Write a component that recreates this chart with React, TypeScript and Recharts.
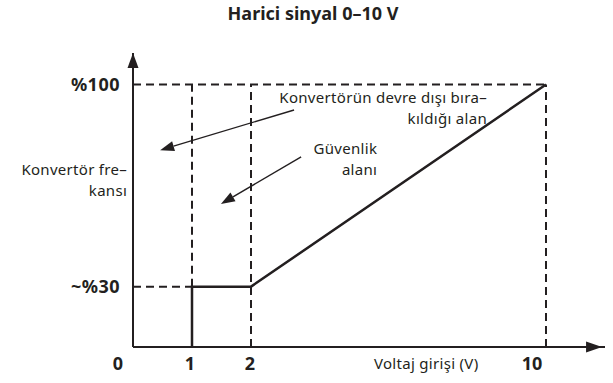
import {
  LineChart,
  Line,
  XAxis,
  YAxis,
  ReferenceLine,
  ReferenceDot,
} from "recharts";

const ink = "#231f20";
const font = "'Noto Sans', sans-serif";

// voltage ticks and the frequency levels
const voltTicks = [0, 1, 2, 10];
const voltTickLabels = ["0", "1", "2", "10"];
const freqTicks = [30, 100];
const freqTickLabels = ["~%30", "%100"];

// the curve: converter frequency vs. input voltage
const lineVolts = [1, 1, 2, 10];
const lineFreq = [0, 30, 30, 100];

// the sketch squeezes the axes, so map through breaks
const voltBreaks = [0, 2, 10];
const voltAxisPos = [0, 2, 7];
const freqBreaks = [0, 30, 100];
const freqAxisPos = [0, 23, 100];

function piecewise(v: number, from: number[], to: number[]) {
  for (let i = 1; i < from.length; i++) {
    if (v <= from[i] || i === from.length - 1) {
      const t = (v - from[i - 1]) / (from[i] - from[i - 1]);
      return to[i - 1] + t * (to[i] - to[i - 1]);
    }
  }
  return v;
}
const mapV = (v: number) => piecewise(v, voltBreaks, voltAxisPos);
const mapF = (f: number) => piecewise(f, freqBreaks, freqAxisPos);

const lineData = lineVolts.map((v, i) => ({ x: mapV(v), y: mapF(lineFreq[i]) }));
const xTickPos = voltTicks.map(mapV);
const yTickPos = freqTicks.map(mapF);
const xTickShift = [-15, -2, -1, -14];

const XTick = (props: any) => {
  const { x, y, payload } = props;
  const i = xTickPos.indexOf(payload.value);
  return (
    <text x={x + (xTickShift[i] || 0)} y={y} dy="0.71em" textAnchor="middle"
      fontFamily={font} fontWeight={700} fontSize={18} fill={ink}>
      {voltTickLabels[i]}
    </text>
  );
};

const YTick = (props: any) => {
  const { x, y, payload } = props;
  const i = yTickPos.indexOf(payload.value);
  return (
    <text x={x} y={y} dy="0.35em" textAnchor="end"
      fontFamily={font} fontWeight={700} fontSize={18} letterSpacing={0.5} fill={ink}>
      {freqTickLabels[i]}
    </text>
  );
};

const textBlock = (lines: string[], anchor: string, lh: number) => (props: any) => {
  const { cx, cy } = props;
  return (
    <text x={cx} y={cy} textAnchor={anchor} fontFamily={font} fontSize={15}
      letterSpacing={0.3} fill={ink}>
      {lines.map((l, i) => (
        <tspan key={i} x={cx} dy={i === 0 ? 0 : lh}>{l}</tspan>
      ))}
    </text>
  );
};

const arrowShape = (len: number, half: number, sw: number) => (props: any) => {
  const { x1, y1, x2, y2 } = props;
  const dx = x2 - x1;
  const dy = y2 - y1;
  const d = Math.sqrt(dx * dx + dy * dy) || 1;
  const ux = dx / d;
  const uy = dy / d;
  const bx = x2 - ux * len;
  const by = y2 - uy * len;
  return (
    <g>
      <line x1={x1} y1={y1} x2={bx} y2={by} stroke={ink} strokeWidth={sw} />
      <polygon
        points={`${x2},${y2} ${bx - uy * half},${by + ux * half} ${bx + uy * half},${by - ux * half}`}
        fill={ink}
      />
    </g>
  );
};

const dash = { stroke: ink, strokeWidth: 2, strokeDasharray: "8 5", ifOverflow: "visible" as const };

export default function App() {
  return (
    <div style={{ position: "absolute", left: 0, top: 0, width: 613, height: 383, background: "#fff" }}>
      <div style={{ position: "absolute", left: 0, width: 626, top: 1, textAlign: "center",
        fontFamily: font, fontWeight: 700, fontSize: 18, color: ink }}>
        Harici sinyal 0–10 V
      </div>
      <LineChart width={613} height={383} data={lineData}
        margin={{ top: 53, right: 8, left: 0, bottom: 0 }}>
        <XAxis type="number" dataKey="x" domain={[0, 8]} ticks={xTickPos} interval={0}
          tickLine={false} tickSize={0} tickMargin={10} height={36}
          axisLine={{ stroke: ink, strokeWidth: 2 }} tick={<XTick />} allowDataOverflow />
        <YAxis type="number" domain={[0, 112]} ticks={yTickPos} interval={0}
          tickLine={false} tickSize={0} tickMargin={13} width={133}
          axisLine={{ stroke: ink, strokeWidth: 2 }} tick={<YTick />} allowDataOverflow />

        <ReferenceLine segment={[{ x: 0, y: 100 }, { x: 7, y: 100 }]} {...dash} />
        <ReferenceLine segment={[{ x: 0, y: 23 }, { x: 1, y: 23 }]} {...dash} />
        <ReferenceLine segment={[{ x: 1, y: 23 }, { x: 1, y: 100 }]} {...dash} />
        <ReferenceLine segment={[{ x: 2, y: 0 }, { x: 2, y: 100 }]} {...dash} />
        <ReferenceLine segment={[{ x: 7, y: 0 }, { x: 7, y: 100 }]} {...dash} />

        <Line type="linear" dataKey="y" stroke={ink} strokeWidth={2.5} dot={false}
          isAnimationActive={false} strokeLinejoin="miter" />

        <ReferenceLine segment={[{ x: 0, y: 100 }, { x: 0, y: 112 }]} ifOverflow="visible"
          shape={arrowShape(15, 5.5, 2)} />
        <ReferenceLine segment={[{ x: 7.5, y: 0 }, { x: 7.95, y: 0 }]} ifOverflow="visible"
          shape={arrowShape(16, 5.5, 2)} />

        <ReferenceLine segment={[{ x: 2.73, y: 90.3 }, { x: 0.46, y: 75.0 }]} ifOverflow="visible"
          shape={arrowShape(14, 5, 1.4)} />
        <ReferenceLine segment={[{ x: 2.85, y: 72.4 }, { x: 1.49, y: 54.5 }]} ifOverflow="visible"
          shape={arrowShape(14, 5, 1.4)} />

        <ReferenceDot x={6.0} y={93.0} r={0} ifOverflow="visible"
          shape={textBlock(["Konvertörün devre dışı bıra–", "kıldığı alan"], "end", 21)} />
        <ReferenceDot x={4.14} y={73.5} r={0} ifOverflow="visible"
          shape={textBlock(["Güvenlik", "alanı"], "end", 21)} />
        <ReferenceDot x={-0.1} y={65.5} r={0} ifOverflow="visible"
          shape={textBlock(["Konvertör fre–", "kansı"], "end", 21)} />
        <ReferenceDot x={4.97} y={-8.4} r={0} ifOverflow="visible"
          shape={textBlock(["Voltaj girişi (V)"], "middle", 18)} />
      </LineChart>
    </div>
  );
}
